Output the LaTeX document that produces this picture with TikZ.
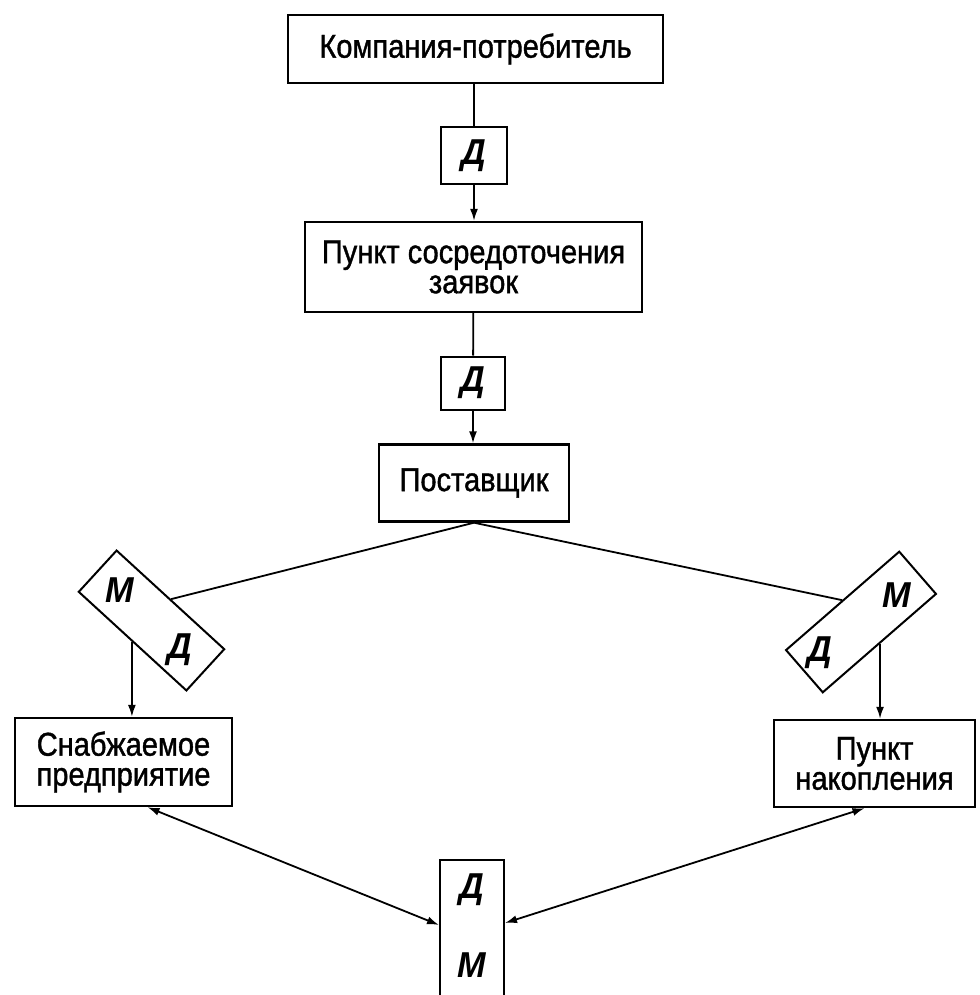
\documentclass[tikz,border=0pt]{standalone}
\usepackage{fontspec}
\setmainfont{Liberation Sans}[FakeStretch=0.88,FakeBold=1.2]
\newfontfamily\letterfont{Liberation Sans}[FakeStretch=0.95]
\usetikzlibrary{arrows.meta}
\begin{document}
\begin{tikzpicture}[x=1pt,y=-1pt,
  box/.style={draw,line width=2.4pt,align=center,inner sep=0pt,font=\fontsize{33}{34}\selectfont},
  tag/.style={draw,line width=2pt,inner sep=0pt},
  letter/.style={inner sep=0pt,font=\letterfont\itshape\bfseries\fontsize{36}{36}\selectfont},
  link/.style={line width=1.8pt},
  flow/.style={line width=1.8pt,-{Latex[length=12pt,width=8pt]}},
  both/.style={line width=1.8pt,{Latex[length=12pt,width=8pt]}-{Latex[length=12pt,width=8pt]}}]
\useasboundingbox (0,0) rectangle (979,995);

% main chain
\node[box,minimum width=375pt,minimum height=68pt] (cust) at (475.5,49) {Компания-потребитель};
\node[tag,minimum width=66pt,minimum height=57pt,letter] (d1) at (474,156) {Д};
\node[box,minimum width=337pt,minimum height=90pt] (hub) at (473.5,267) {Пункт сосредоточения\\[-4pt]заявок};
\node[tag,minimum width=64pt,minimum height=53pt,letter] (d2) at (473,383) {Д};
\node[box,minimum width=190pt,minimum height=77pt] (supp) at (474,483) {Поставщик};

% tilted document/material tags
\node[tag,minimum width=146pt,minimum height=56pt,rotate=-42.5] (lt) at (151.5,620.5) {};
\node[letter] (ltm) at (120,590) {М};
\node[letter] (ltd) at (180,650) {Д};
\node[tag,minimum width=150pt,minimum height=56pt,rotate=41] (rt) at (861,622) {};
\node[letter] (rtm) at (897,595) {М};
\node[letter] (rtd) at (820,653) {Д};

% receivers
\node[box,minimum width=217pt,minimum height=88pt] (plant) at (123.5,762) {Снабжаемое\\[-4pt]предприятие};
\node[box,minimum width=201pt,minimum height=87pt] (store) at (874.5,763.5) {Пункт\\[-4pt]накопления};

% open-ended tag at the bottom
\node[tag,minimum width=64pt,minimum height=160pt] (bt) at (472,940) {};
\node[letter] (btd) at (472,890) {Д};
\node[letter] (btm) at (472,965) {М};

% connectors
\draw[link] (d1.north |- cust.south) -- (d1.north);
\draw[flow] (d1) -- (d1 |- hub.north);
\draw[link] (hub) -- (d2);
\draw[flow] (d2) -- (d2 |- supp.north);
\draw[link] (supp.south) -- (lt.north);
\draw[link] (supp.south) -- (rt.north);
\draw[flow] (lt.south) -- (lt.south |- plant.north);
\draw[flow] (rt.south) -- (rt.south |- store.north);
\draw[both] ([xshift=24pt]plant.south) -- ([yshift=15pt]bt.west);
\draw[both] ([xshift=-10pt]store.south) -- ([yshift=17pt]bt.east);
\end{tikzpicture}
\end{document}
